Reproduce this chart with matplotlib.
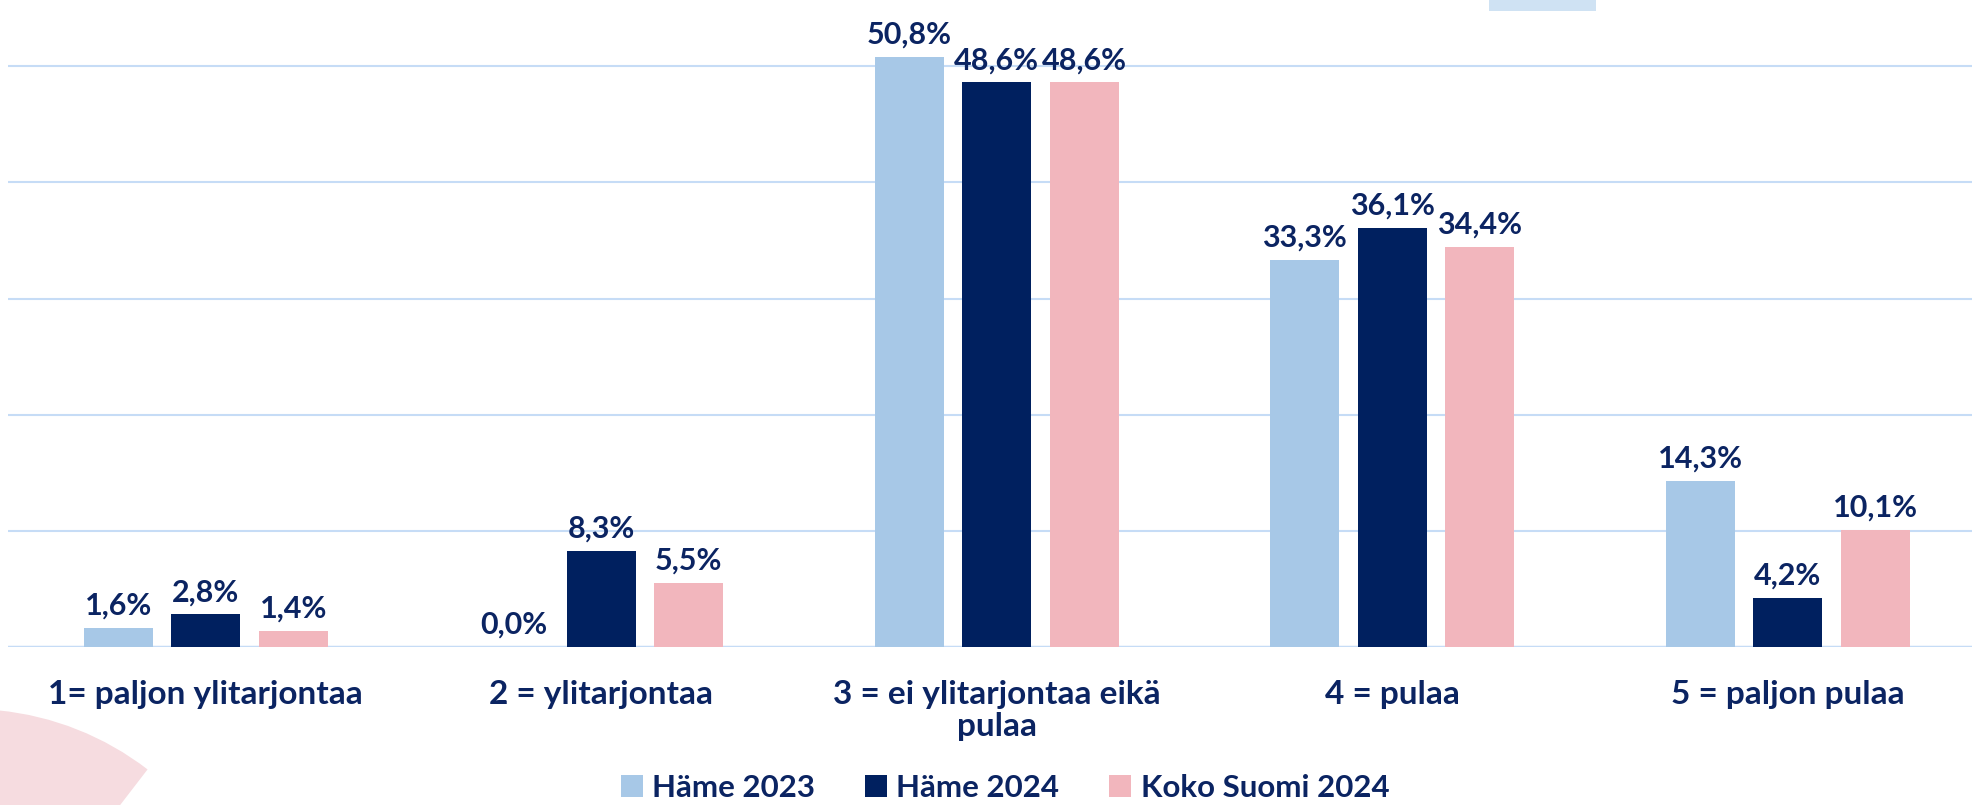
# coding: utf8
# Häme 2023 / 2024 vs koko Suomi - pylväskaavio
import numpy as np
import matplotlib.pyplot as plt
from matplotlib.patches import Patch, Rectangle, Wedge

categories = ['1= paljon ylitarjontaa', '2 = ylitarjontaa',
              '3 = ei ylitarjontaa eikä\npulaa', '4 = pulaa', '5 = paljon pulaa']
series_names = ['Häme 2023', 'Häme 2024', 'Koko Suomi 2024']
hame_2023 = [1.6, 0.0, 50.8, 33.3, 14.3]
hame_2024 = [2.8, 8.3, 48.6, 36.1, 4.2]
koko_suomi_2024 = [1.4, 5.5, 48.6, 34.4, 10.1]

colors = ['#a7c8e7', '#00205f', '#f2b6bd']
navy = '#0b2462'
grid_col = '#c6dcf6'

plt.rcParams['font.family'] = ['Lato', 'DejaVu Sans']
plt.rcParams['font.weight'] = 'bold'

W, H = 1972, 805
fig = plt.figure(figsize=(W / 100, H / 100), dpi=100)

# koristeet: vaaleanpunainen sektori vasemmalla alhaalla ja sininen palkki ylhäällä
wedge = Wedge((-0.30, -1.95), 2.91, 52.4, 180, transform=fig.dpi_scale_trans,
              facecolor='#f6dce0', edgecolor='none', zorder=0)
fig.patches.append(wedge)
fig.patches.append(Rectangle((1489 / W, 1 - 11 / H), 107 / W, 11 / H,
                             transform=fig.transFigure, facecolor='#cfe2f3',
                             edgecolor='none', zorder=0))

ax = fig.add_axes([8 / W, 158 / H, 1977.5 / W, 647 / H])
ax.set_facecolor('none')

x = np.arange(len(categories))
bw = 0.175
step = 0.221
data = [hame_2023, hame_2024, koko_suomi_2024]
for i, vals in enumerate(data):
    pos = x + (i - 1) * step
    bars = ax.bar(pos, vals, width=bw, color=colors[i], zorder=3)
    for xp, v in zip(pos, vals):
        ax.annotate(f'{v:.1f}%'.replace('.', ','), (xp, v), xytext=(0, 6),
                    textcoords='offset points', ha='center', va='bottom',
                    fontsize=22, fontweight='bold', color=navy, zorder=4)

ax.set_xlim(-0.5, 4.5)
ax.set_ylim(0, 55.7)
ax.set_yticks([10, 20, 30, 40, 50])
ax.yaxis.grid(True, color=grid_col, linewidth=1.5, zorder=0)
ax.axhline(0, color=grid_col, linewidth=2.5, zorder=2)
ax.tick_params(axis='y', left=False, labelleft=False)
ax.tick_params(axis='x', bottom=False, pad=20)
ax.set_xticks(x)
ax.set_xticklabels(categories, fontsize=24, fontweight='bold', color=navy,
                   linespacing=1.15)
for s in ax.spines.values():
    s.set_visible(False)

handles = [Patch(facecolor=c, edgecolor='none') for c in colors]
fig.legend(handles, series_names, loc='center', bbox_to_anchor=(1005 / W, 17 / H),
           ncol=3, frameon=False, handlelength=0.7, handleheight=0.7,
           handletextpad=0.3, columnspacing=1.6, labelcolor=navy,
           prop={'weight': 'bold', 'size': 22.5})

fig.savefig('out.png', dpi=100)
